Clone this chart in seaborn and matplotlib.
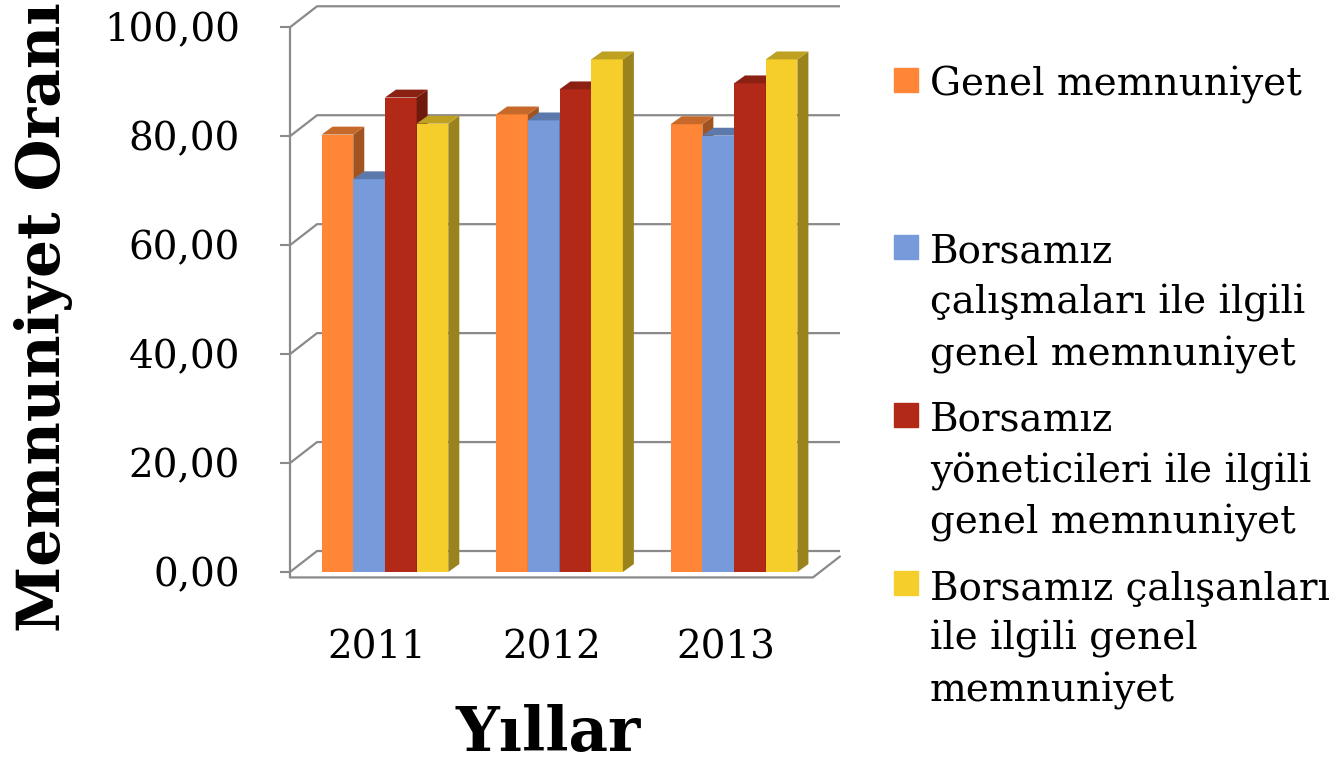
import matplotlib
matplotlib.use("Agg")
import matplotlib.pyplot as plt
from matplotlib.patches import Polygon, Rectangle
from matplotlib.ticker import FuncFormatter
from matplotlib.colors import to_rgb
from matplotlib.transforms import ScaledTranslation
import seaborn as sns
import pandas as pd

# data
years = ["2011", "2012", "2013"]
series = ["Genel memnuniyet",
          "Borsamız\nçalışmaları ile ilgili\ngenel memnuniyet",
          "Borsamız\nyöneticileri ile ilgili\ngenel memnuniyet",
          "Borsamız çalışanları\nile ilgili genel\nmemnuniyet"]
genel = [80.3, 84.0, 82.2]
calismalar = [72.1, 82.9, 80.1]
yoneticiler = [87.1, 88.6, 89.7]
calisanlar = [82.3, 94.1, 94.1]
colors = ["#FF8636", "#779ADB", "#B22A17", "#F5CE2C"]
yticks = [0, 20, 40, 60, 80, 100]

df = pd.DataFrame({
    "Yil": years * 4,
    "Seri": [s for s in series for _ in years],
    "Oran": genel + calismalar + yoneticiler + calisanlar,
})

sns.set_style("white")
plt.rcParams["font.family"] = "serif"
plt.rcParams["font.serif"] = ["DejaVu Serif"]
plt.rcParams["text.color"] = "black"
plt.rcParams["xtick.labelcolor"] = "black"
plt.rcParams["ytick.labelcolor"] = "black"

W, H = 1338, 767
fig = plt.figure(figsize=(W / 100, H / 100), dpi=100)
ax = fig.add_axes([290 / W, (H - 577) / H, 550 / W, 571 / H])

sns.barplot(df, x="Yil", y="Oran", hue="Seri", palette=colors, width=0.726,
            saturation=1, errorbar=None, legend=False, linewidth=0, ax=ax)

ax.set_xlim(-0.544, 2.607)
ax.set_ylim(-0.92, 103.9)
xl, xr = ax.get_xlim()

gray = "#8a8a8a"
wdx, wdy = 0.155, 3.85     # depth of the back wall
bdx, bdy = 0.063, 1.45     # depth of each bar
floor = -1.0


def shade(c, f):
    r, g, b = to_rgb(c)
    return (r * f, g * f, b * f)


# fake 3d: side and top face on every bar, drawn left to right
bars = sorted(ax.patches, key=lambda p: p.get_x())
for i, p in enumerate(bars):
    x0, w, h = p.get_x(), p.get_width(), p.get_height()
    fc = p.get_facecolor()
    z = 3 + 3 * i
    p.set_zorder(z)
    ax.add_patch(Polygon([(x0 + w, 0), (x0 + w + bdx, bdy), (x0 + w + bdx, h + bdy), (x0 + w, h)],
                         closed=True, fc=shade(fc, 0.63), lw=0, zorder=z + 1))
    ax.add_patch(Polygon([(x0, h), (x0 + w, h), (x0 + w + bdx, h + bdy), (x0 + bdx, h + bdy)],
                         closed=True, fc=shade(fc, 0.78), lw=0, zorder=z + 2))

# back wall gridlines + left wall diagonals
for v in yticks:
    ax.plot([xl, xl + wdx, xr], [v, v + wdy, v + wdy], color=gray, lw=1.6,
            zorder=1, clip_on=False, solid_capstyle="butt")
# front edge of the floor
ax.plot([xl, xr - wdx, xr], [floor, floor, floor + wdy], color=gray, lw=1.6,
        zorder=1, clip_on=False)

for s in ["top", "right", "bottom"]:
    ax.spines[s].set_visible(False)
ax.spines["left"].set_color(gray)
ax.spines["left"].set_linewidth(1.6)
ax.spines["left"].set_bounds(floor, 100)

ax.set_yticks(yticks)
ax.yaxis.set_major_formatter(FuncFormatter(lambda v, pos: f"{v:.2f}".replace(".", ",")))
ax.tick_params(axis="y", direction="out", length=7, width=1.5, color=gray,
               labelsize=28, pad=29, left=True)
ax.tick_params(axis="x", length=0, labelsize=28, pad=38)
shift = ScaledTranslation(-8 / 100, 0, fig.dpi_scale_trans)
for lab in ax.get_xticklabels():
    lab.set_transform(lab.get_transform() + shift)
ax.set_xlabel("")
ax.set_ylabel("")

fig.text(548 / W, (H - 751) / H, "Yıllar", fontsize=44, fontweight="bold",
         ha="center", va="baseline")
fig.text(44 / W, (H - 632) / H, "Memnuniyet Oranı", fontsize=43, fontweight="bold",
         rotation=90, ha="center", va="bottom")

# legend, marker lined up with first text line like excel does it
line_h = 51.7
leg_base = [95, 262, 430, 598]
for lab, c, b in zip(series, colors, leg_base):
    n = lab.count("\n")
    fig.patches.append(Rectangle((894 / W, (H - b + 3) / H), 24 / W, 24 / H,
                                 transform=fig.transFigure, color=c))
    fig.text(930 / W, (H - b - n * line_h) / H, lab, fontsize=28, ha="left",
             va="baseline", linespacing=1.46)

fig.savefig("out.png", dpi=100)
